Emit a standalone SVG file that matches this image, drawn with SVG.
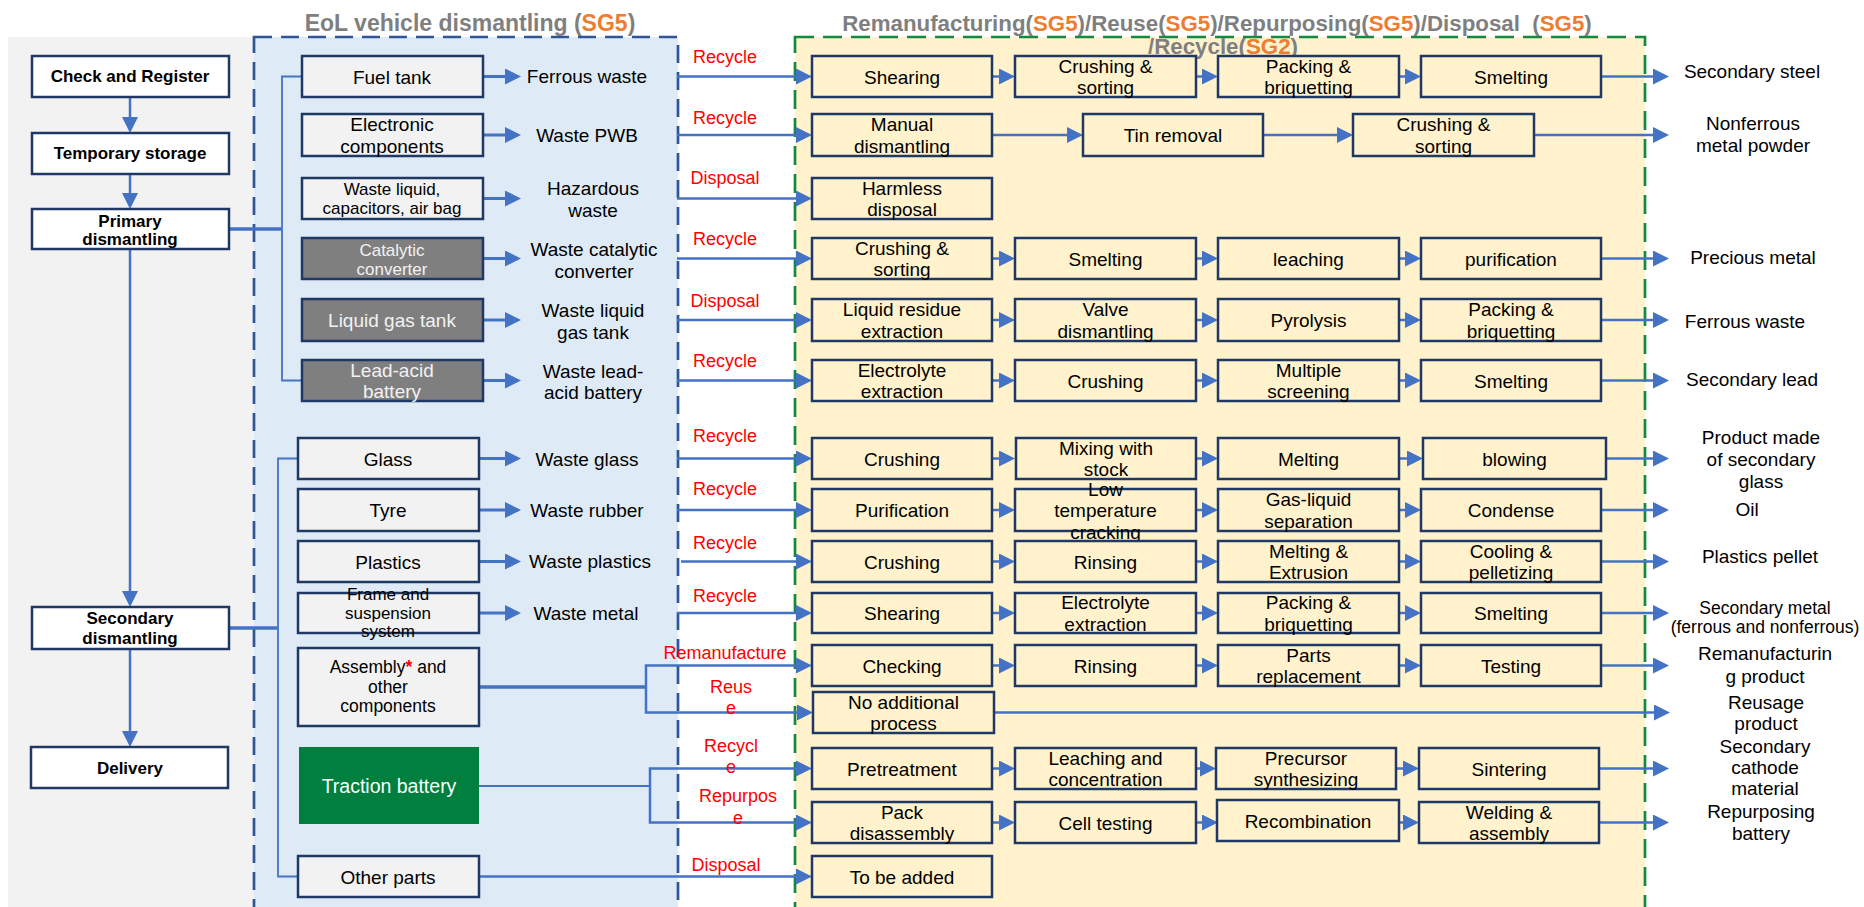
<svg xmlns="http://www.w3.org/2000/svg" width="1864" height="907" viewBox="0 0 1864 907">
<defs>
<style>
.t{font-family:"Liberation Sans",Arial,sans-serif;font-size:19px;fill:#000;text-anchor:middle}
.s17{font-size:17px}
.s175{font-size:17.5px}
.b{font-weight:bold;font-size:17px}
.wt{fill:#f2f2f2}
.lab{fill:#ff0000;font-size:18px}
.bx{stroke:#1f3864;stroke-width:2.5}
.yl{fill:#fff2cc}
.gy{fill:#f2f2f2}
.wh{fill:#ffffff}
.dk{fill:#7f7f7f}
.cn{fill:none;stroke:#4472c4;stroke-width:2.5}
.ar{marker-end:url(#ah)}
.th{stroke-width:3.5}
.tk{stroke-width:3}
.tn{stroke-width:1.8}
.ttl{font-family:"Liberation Sans",Arial,sans-serif;font-weight:bold;font-size:23px;fill:#7f7f7f;text-anchor:middle}
.sg{fill:#ed7d31}
</style>
<marker id="ah" markerUnits="userSpaceOnUse" markerWidth="16" markerHeight="16" viewBox="0 0 16 16" refX="13" refY="8" orient="auto"><path d="M0,0 L16,8 L0,16 z" fill="#4472c4"/></marker>
</defs>
<rect width="1864" height="907" fill="#ffffff"/>
<g id="panels">
<rect x="8" y="37" width="252" height="880" fill="#f2f2f2"/>
<rect x="254" y="37" width="424" height="880" fill="#deebf7" stroke="#2f5597" stroke-width="2.7" stroke-dasharray="18 9"/>
<rect x="795" y="37" width="850" height="880" fill="#fff2cc" stroke="#138a3e" stroke-width="2.7" stroke-dasharray="19 9"/>
</g>
<g id="titles">
<text class="ttl" x="470" y="31">EoL vehicle dismantling (<tspan class="sg">SG5</tspan>)</text>
<text class="ttl" x="1217" y="31" style="font-size:22.3px">Remanufacturing(<tspan class="sg">SG5</tspan>)/Reuse(<tspan class="sg">SG5</tspan>)/Repurposing(<tspan class="sg">SG5</tspan>)/Disposal&#160; (<tspan class="sg">SG5</tspan>)</text>
<text class="ttl" x="1223" y="54" style="font-size:22.3px">/Recycle(<tspan class="sg">SG2</tspan>)</text>
</g>
<g id="connectors">
<line class="cn ar" x1="130" y1="97" x2="130" y2="130"/>
<line class="cn ar" x1="130" y1="174" x2="130" y2="206"/>
<line class="cn ar" x1="130" y1="249" x2="130" y2="604"/>
<line class="cn ar" x1="130" y1="649" x2="130" y2="744"/>
<path class="cn th" d="M229,229 H282"/>
<path class="cn tn" d="M302,76.5 H282 V380.5 H302"/>
<path class="cn th" d="M229,628 H278"/>
<path class="cn tn" d="M298,458.5 H278 V876.5 H298"/>
<g class="cn tk">
<path class="ar" d="M483,76.5 H518"/>
<path class="ar" d="M483,135 H518"/>
<path class="ar" d="M483,198.5 H518"/>
<path class="ar" d="M483,258.5 H518"/>
<path class="ar" d="M483,320 H518"/>
<path class="ar" d="M483,380.5 H518"/>
<path class="ar" d="M479,458.5 H518"/>
<path class="ar" d="M479,510 H518"/>
<path class="ar" d="M479,561.5 H518"/>
<path class="ar" d="M479,613 H518"/>
</g>
<g class="cn">
<path class="ar" d="M677,76.5 H809"/>
<path class="ar" d="M677,135 H809"/>
<path class="ar" d="M677,198.5 H809"/>
<path class="ar" d="M677,258.5 H809"/>
<path class="ar" d="M677,320 H809"/>
<path class="ar" d="M677,380.5 H809"/>
<path class="ar" d="M677,458.5 H809"/>
<path class="ar" d="M677,510 H809"/>
<path class="ar" d="M681,561.5 H809"/>
<path class="ar" d="M677,613 H809"/>
<path class="th" d="M479,687 H646"/>
<path class="ar" d="M646,687 V665.5 H809"/>
<path class="ar" d="M646,687 V712.5 H810"/>
<path class="tn" d="M479,786 H650"/>
<path class="ar" d="M650,786 V768.5 H809"/>
<path class="ar" d="M650,786 V822.5 H809"/>
<path class="ar" d="M479,876.5 H809"/>
<!-- row 1 -->
<path class="ar" d="M992,76.5 H1012"/><path class="ar" d="M1196,76.5 H1215"/><path class="ar" d="M1399,76.5 H1418"/><path class="ar" d="M1601,76.5 H1666"/>
<!-- row 2 -->
<path class="ar" d="M992,135 H1080"/><path class="ar" d="M1263,135 H1350"/><path class="ar" d="M1534,135 H1666"/>
<!-- row 4 -->
<path class="ar" d="M992,258.5 H1012"/><path class="ar" d="M1196,258.5 H1215"/><path class="ar" d="M1399,258.5 H1418"/><path class="ar" d="M1601,258.5 H1666"/>
<!-- row 5 -->
<path class="ar" d="M992,320 H1012"/><path class="ar" d="M1196,320 H1215"/><path class="ar" d="M1399,320 H1418"/><path class="ar" d="M1601,320 H1666"/>
<!-- row 6 -->
<path class="ar" d="M992,380.5 H1012"/><path class="ar" d="M1196,380.5 H1215"/><path class="ar" d="M1399,380.5 H1418"/><path class="ar" d="M1601,380.5 H1666"/>
<!-- row 7 -->
<path class="ar" d="M992,458.5 H1012"/><path class="ar" d="M1196,458.5 H1215"/><path class="ar" d="M1399,458.5 H1420"/><path class="ar" d="M1606,458.5 H1666"/>
<!-- row 8 -->
<path class="ar" d="M992,510 H1012"/><path class="ar" d="M1196,510 H1215"/><path class="ar" d="M1399,510 H1418"/><path class="ar" d="M1601,510 H1666"/>
<!-- row 9 -->
<path class="ar" d="M992,561.5 H1012"/><path class="ar" d="M1196,561.5 H1215"/><path class="ar" d="M1399,561.5 H1418"/><path class="ar" d="M1601,561.5 H1666"/>
<!-- row 10 -->
<path class="ar" d="M992,613 H1012"/><path class="ar" d="M1196,613 H1215"/><path class="ar" d="M1399,613 H1418"/><path class="ar" d="M1601,613 H1666"/>
<!-- row 11 -->
<path class="ar" d="M992,665.5 H1012"/><path class="ar" d="M1196,665.5 H1215"/><path class="ar" d="M1399,665.5 H1418"/><path class="ar" d="M1601,665.5 H1666"/>
<!-- row 12 -->
<path class="ar" d="M994,712.5 H1667"/>
<!-- row 13 -->
<path class="ar" d="M992,768.5 H1012"/><path class="ar" d="M1196,768.5 H1213"/><path class="ar" d="M1396,768.5 H1416"/><path class="ar" d="M1599,768.5 H1666"/>
<!-- row 14 -->
<path class="ar" d="M992,822.5 H1012"/><path class="ar" d="M1196,822.5 H1215"/><path class="ar" d="M1399,822.5 H1416"/><path class="ar" d="M1599,822.5 H1666"/>
</g>
</g>
<g id="flow-labels" class="t lab">
<text class="t lab" x="725" y="63">Recycle</text>
<text class="t lab" x="725" y="124">Recycle</text>
<text class="t lab" x="725" y="184">Disposal</text>
<text class="t lab" x="725" y="245">Recycle</text>
<text class="t lab" x="725" y="307">Disposal</text>
<text class="t lab" x="725" y="367">Recycle</text>
<text class="t lab" x="725" y="442">Recycle</text>
<text class="t lab" x="725" y="495">Recycle</text>
<text class="t lab" x="725" y="549">Recycle</text>
<text class="t lab" x="725" y="602">Recycle</text>
<text class="t lab" x="725" y="659">Remanufacture</text>
<text class="t lab" x="731" y="693">Reus<tspan x="731" y="714">e</tspan></text>
<text class="t lab" x="731" y="752">Recycl<tspan x="731" y="773">e</tspan></text>
<text class="t lab" x="738" y="802">Repurpos<tspan x="738" y="824">e</tspan></text>
<text class="t lab" x="726" y="871">Disposal</text>
</g>
<g id="check-register"><rect class="bx wh" x="32" y="56" width="197" height="41"/><text class="t b" x="130" y="82">Check and Register</text></g>
<g id="temporary-storage"><rect class="bx wh" x="32" y="133" width="197" height="41"/><text class="t b" x="130" y="159">Temporary storage</text></g>
<g id="primary-dismantling"><rect class="bx wh" x="32" y="209" width="197" height="40"/><text class="t b" x="130" y="227">Primary<tspan x="130" y="245">dismantling</tspan></text></g>
<g id="secondary-dismantling"><rect class="bx wh" x="32" y="607" width="197" height="42"/><text class="t b" x="130" y="624">Secondary<tspan x="130" y="644">dismantling</tspan></text></g>
<g id="delivery"><rect class="bx wh" x="31" y="747" width="197" height="41"/><text class="t b" x="130" y="774">Delivery</text></g>

<g id="fuel-tank"><rect class="bx gy" x="302" y="56" width="181" height="41"/><text class="t" x="392" y="83.5">Fuel tank</text></g>
<g id="electronic"><rect class="bx gy" x="302" y="114" width="181" height="42"/><text class="t" x="392" y="131">Electronic<tspan x="392" y="152.5">components</tspan></text></g>
<g id="waste-liquid"><rect class="bx gy" x="302" y="178" width="181" height="41"/><text class="t s17" x="392" y="195">Waste liquid,<tspan x="392" y="214">capacitors, air bag</tspan></text></g>
<g id="catalytic"><rect class="bx dk" x="302" y="238" width="181" height="41"/><text class="t s17 wt" x="392" y="256">Catalytic<tspan x="392" y="275">converter</tspan></text></g>
<g id="liquid-gas-tank"><rect class="bx dk" x="302" y="299" width="181" height="42"/><text class="t wt" x="392" y="327">Liquid gas tank</text></g>
<g id="lead-acid"><rect class="bx dk" x="302" y="360" width="181" height="41"/><text class="t wt" x="392" y="377">Lead-acid<tspan x="392" y="397.5">battery</tspan></text></g>

<g id="glass"><rect class="bx gy" x="298" y="438" width="181" height="41"/><text class="t" x="388" y="465.5">Glass</text></g>
<g id="tyre"><rect class="bx gy" x="298" y="489" width="181" height="42"/><text class="t" x="388" y="517">Tyre</text></g>
<g id="plastics"><rect class="bx gy" x="298" y="541" width="181" height="41"/><text class="t" x="388" y="568.5">Plastics</text></g>
<g id="frame"><rect class="bx gy" x="298" y="593" width="181" height="40"/><text class="t s17" x="388" y="600">Frame and<tspan x="388" y="618.5">suspension</tspan><tspan x="388" y="637">system</tspan></text></g>
<g id="assembly"><rect class="bx gy" x="298" y="648" width="181" height="78"/><text class="t s175" x="388" y="673">Assembly<tspan fill="#ff0000" font-weight="bold">*</tspan> and<tspan x="388" y="692.5">other</tspan><tspan x="388" y="712">components</tspan></text></g>
<g id="traction-battery"><rect x="299" y="747" width="180" height="77" fill="#007f3e"/><text class="t" x="389" y="793" style="fill:#ffffff;font-size:19.5px">Traction battery</text></g>
<g id="other-parts"><rect class="bx gy" x="298" y="856" width="181" height="41"/><text class="t" x="388" y="883.5">Other parts</text></g>

<g id="waste-outputs" class="t">
<text class="t" x="587" y="83">Ferrous waste</text>
<text class="t" x="587" y="142">Waste PWB</text>
<text class="t" x="593" y="195">Hazardous<tspan x="593" y="217">waste</tspan></text>
<text class="t" x="594" y="256">Waste catalytic<tspan x="594" y="278">converter</tspan></text>
<text class="t" x="593" y="317">Waste liquid<tspan x="593" y="339">gas tank</tspan></text>
<text class="t" x="593" y="378">Waste lead-<tspan x="593" y="399">acid battery</tspan></text>
<text class="t" x="587" y="466">Waste glass</text>
<text class="t" x="587" y="517">Waste rubber</text>
<text class="t" x="590" y="568">Waste plastics</text>
<text class="t" x="586" y="620">Waste metal</text>
</g>

<g id="process-row1">
<rect class="bx yl" x="812" y="56" width="180" height="41"/><text class="t" x="902" y="83.5">Shearing</text>
<rect class="bx yl" x="1015" y="56" width="181" height="41"/><text class="t" x="1105.5" y="72.5">Crushing &amp;<tspan x="1105.5" y="94">sorting</tspan></text>
<rect class="bx yl" x="1218" y="56" width="181" height="41"/><text class="t" x="1308.5" y="72.5">Packing &amp;<tspan x="1308.5" y="94">briquetting</tspan></text>
<rect class="bx yl" x="1421" y="56" width="180" height="41"/><text class="t" x="1511" y="83.5">Smelting</text>
</g>
<g id="process-row2">
<rect class="bx yl" x="812" y="114" width="180" height="42"/><text class="t" x="902" y="131">Manual<tspan x="902" y="152.5">dismantling</tspan></text>
<rect class="bx yl" x="1083" y="114" width="180" height="42"/><text class="t" x="1173" y="142">Tin removal</text>
<rect class="bx yl" x="1353" y="114" width="181" height="42"/><text class="t" x="1443.5" y="131">Crushing &amp;<tspan x="1443.5" y="152.5">sorting</tspan></text>
</g>
<g id="process-row3">
<rect class="bx yl" x="812" y="178" width="180" height="41"/><text class="t" x="902" y="194.5">Harmless<tspan x="902" y="216">disposal</tspan></text>
</g>
<g id="process-row4">
<rect class="bx yl" x="812" y="238" width="180" height="41"/><text class="t" x="902" y="254.5">Crushing &amp;<tspan x="902" y="276">sorting</tspan></text>
<rect class="bx yl" x="1015" y="238" width="181" height="41"/><text class="t" x="1105.5" y="265.5">Smelting</text>
<rect class="bx yl" x="1218" y="238" width="181" height="41"/><text class="t" x="1308.5" y="265.5">leaching</text>
<rect class="bx yl" x="1421" y="238" width="180" height="41"/><text class="t" x="1511" y="265.5">purification</text>
</g>
<g id="process-row5">
<rect class="bx yl" x="812" y="299" width="180" height="42"/><text class="t" x="902" y="316">Liquid residue<tspan x="902" y="337.5">extraction</tspan></text>
<rect class="bx yl" x="1015" y="299" width="181" height="42"/><text class="t" x="1105.5" y="316">Valve<tspan x="1105.5" y="337.5">dismantling</tspan></text>
<rect class="bx yl" x="1218" y="299" width="181" height="42"/><text class="t" x="1308.5" y="327">Pyrolysis</text>
<rect class="bx yl" x="1421" y="299" width="180" height="42"/><text class="t" x="1511" y="316">Packing &amp;<tspan x="1511" y="337.5">briquetting</tspan></text>
</g>
<g id="process-row6">
<rect class="bx yl" x="812" y="360" width="180" height="41"/><text class="t" x="902" y="376.5">Electrolyte<tspan x="902" y="398">extraction</tspan></text>
<rect class="bx yl" x="1015" y="360" width="181" height="41"/><text class="t" x="1105.5" y="387.5">Crushing</text>
<rect class="bx yl" x="1218" y="360" width="181" height="41"/><text class="t" x="1308.5" y="376.5">Multiple<tspan x="1308.5" y="398">screening</tspan></text>
<rect class="bx yl" x="1421" y="360" width="180" height="41"/><text class="t" x="1511" y="387.5">Smelting</text>
</g>
<g id="process-row7">
<rect class="bx yl" x="812" y="438" width="180" height="41"/><text class="t" x="902" y="465.5">Crushing</text>
<rect class="bx yl" x="1016" y="438" width="180" height="41"/><text class="t" x="1106" y="454.5">Mixing with<tspan x="1106" y="476">stock</tspan></text>
<rect class="bx yl" x="1218" y="438" width="181" height="41"/><text class="t" x="1308.5" y="465.5">Melting</text>
<rect class="bx yl" x="1423" y="438" width="183" height="41"/><text class="t" x="1514.5" y="465.5">blowing</text>
</g>
<g id="process-row8">
<rect class="bx yl" x="812" y="489" width="180" height="42"/><text class="t" x="902" y="517">Purification</text>
<rect class="bx yl" x="1015" y="489" width="181" height="42"/><text class="t" x="1105.5" y="496">Low<tspan x="1105.5" y="517">temperature</tspan><tspan x="1105.5" y="539">cracking</tspan></text>
<rect class="bx yl" x="1218" y="489" width="181" height="42"/><text class="t" x="1308.5" y="506">Gas-liquid<tspan x="1308.5" y="527.5">separation</tspan></text>
<rect class="bx yl" x="1421" y="489" width="180" height="42"/><text class="t" x="1511" y="517">Condense</text>
</g>
<g id="process-row9">
<rect class="bx yl" x="812" y="541" width="180" height="41"/><text class="t" x="902" y="568.5">Crushing</text>
<rect class="bx yl" x="1015" y="541" width="181" height="41"/><text class="t" x="1105.5" y="568.5">Rinsing</text>
<rect class="bx yl" x="1218" y="541" width="181" height="41"/><text class="t" x="1308.5" y="557.5">Melting &amp;<tspan x="1308.5" y="579">Extrusion</tspan></text>
<rect class="bx yl" x="1421" y="541" width="180" height="41"/><text class="t" x="1511" y="557.5">Cooling &amp;<tspan x="1511" y="579">pelletizing</tspan></text>
</g>
<g id="process-row10">
<rect class="bx yl" x="812" y="593" width="180" height="40"/><text class="t" x="902" y="620">Shearing</text>
<rect class="bx yl" x="1015" y="593" width="181" height="40"/><text class="t" x="1105.5" y="609">Electrolyte<tspan x="1105.5" y="630.5">extraction</tspan></text>
<rect class="bx yl" x="1218" y="593" width="181" height="40"/><text class="t" x="1308.5" y="609">Packing &amp;<tspan x="1308.5" y="630.5">briquetting</tspan></text>
<rect class="bx yl" x="1421" y="593" width="180" height="40"/><text class="t" x="1511" y="620">Smelting</text>
</g>
<g id="process-row11">
<rect class="bx yl" x="812" y="645" width="180" height="41"/><text class="t" x="902" y="672.5">Checking</text>
<rect class="bx yl" x="1015" y="645" width="181" height="41"/><text class="t" x="1105.5" y="672.5">Rinsing</text>
<rect class="bx yl" x="1218" y="645" width="181" height="41"/><text class="t" x="1308.5" y="661.5">Parts<tspan x="1308.5" y="683">replacement</tspan></text>
<rect class="bx yl" x="1421" y="645" width="180" height="41"/><text class="t" x="1511" y="672.5">Testing</text>
</g>
<g id="process-row12">
<rect class="bx yl" x="813" y="692" width="181" height="41"/><text class="t" x="903.5" y="708.5">No additional<tspan x="903.5" y="730">process</tspan></text>
</g>
<g id="process-row13">
<rect class="bx yl" x="812" y="748" width="180" height="41"/><text class="t" x="902" y="775.5">Pretreatment</text>
<rect class="bx yl" x="1015" y="748" width="181" height="41"/><text class="t" x="1105.5" y="764.5">Leaching and<tspan x="1105.5" y="786">concentration</tspan></text>
<rect class="bx yl" x="1216" y="748" width="180" height="41"/><text class="t" x="1306" y="764.5">Precursor<tspan x="1306" y="786">synthesizing</tspan></text>
<rect class="bx yl" x="1419" y="748" width="180" height="41"/><text class="t" x="1509" y="775.5">Sintering</text>
</g>
<g id="process-row14">
<rect class="bx yl" x="812" y="802" width="180" height="41"/><text class="t" x="902" y="818.5">Pack<tspan x="902" y="840">disassembly</tspan></text>
<rect class="bx yl" x="1015" y="802" width="181" height="41"/><text class="t" x="1105.5" y="829.5">Cell testing</text>
<rect class="bx yl" x="1217" y="800" width="182" height="41"/><text class="t" x="1308" y="827.5">Recombination</text>
<rect class="bx yl" x="1419" y="802" width="180" height="41"/><text class="t" x="1509" y="818.5">Welding &amp;<tspan x="1509" y="840">assembly</tspan></text>
</g>
<g id="process-row15">
<rect class="bx yl" x="812" y="856" width="180" height="41"/><text class="t" x="902" y="883.5">To be added</text>
</g>

<g id="products">
<text class="t" x="1752" y="78">Secondary steel</text>
<text class="t" x="1753" y="130">Nonferrous<tspan x="1753" y="152">metal powder</tspan></text>
<text class="t" x="1753" y="264">Precious metal</text>
<text class="t" x="1745" y="328">Ferrous waste</text>
<text class="t" x="1752" y="386">Secondary lead</text>
<text class="t" x="1761" y="443.5">Product made<tspan x="1761" y="465.5">of secondary</tspan><tspan x="1761" y="487.5">glass</tspan></text>
<text class="t" x="1747" y="516">Oil</text>
<text class="t" x="1760" y="563">Plastics pellet</text>
<text class="t" x="1765" y="614" style="font-size:17.5px">Secondary metal<tspan x="1765" y="633">(ferrous and nonferrous)</tspan></text>
<text class="t" x="1765" y="660">Remanufacturin<tspan x="1765" y="683">g product</tspan></text>
<text class="t" x="1766" y="709">Reusage<tspan x="1766" y="730">product</tspan></text>
<text class="t" x="1765" y="753">Secondary<tspan x="1765" y="774">cathode</tspan><tspan x="1765" y="795">material</tspan></text>
<text class="t" x="1761" y="818">Repurposing<tspan x="1761" y="840">battery</tspan></text>
</g>
</svg>
